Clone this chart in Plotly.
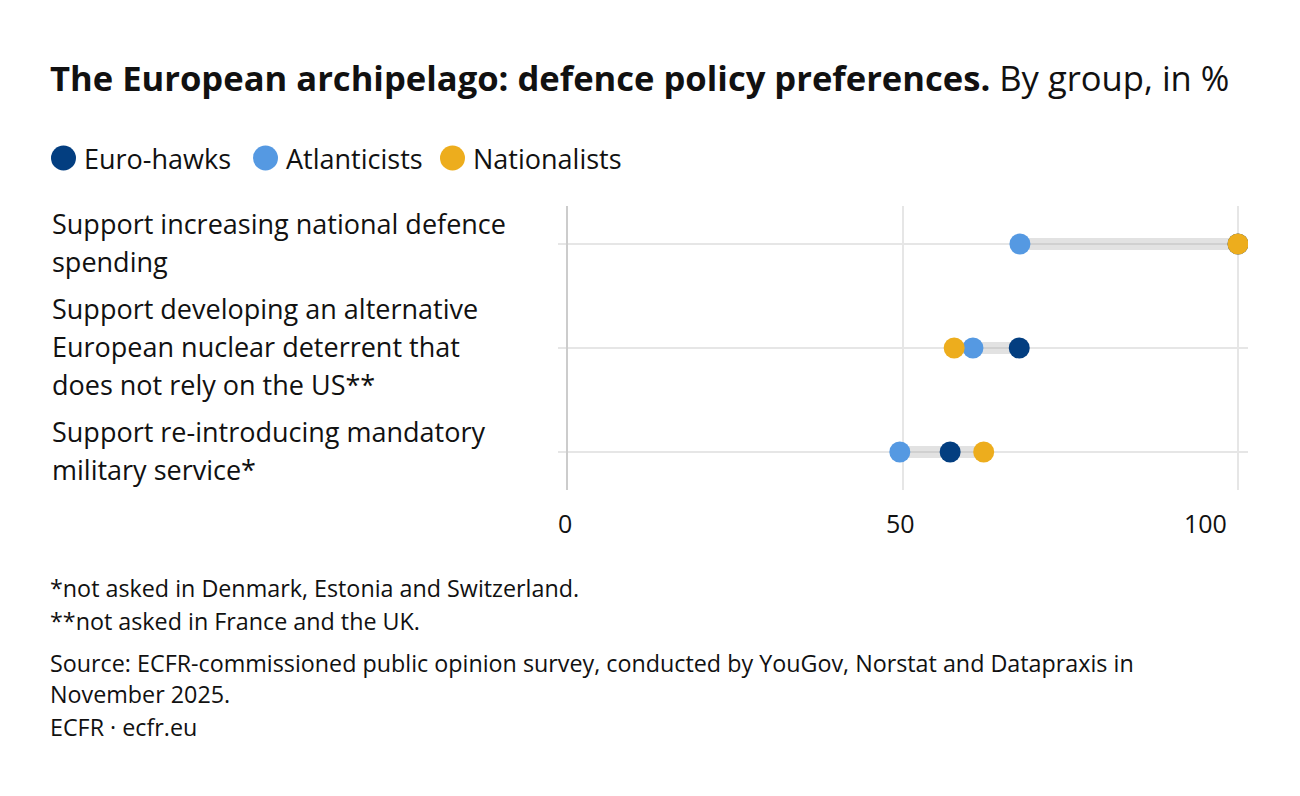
import plotly.graph_objects as go

categories = [
    ["Support increasing national defence", "spending"],
    ["Support developing an alternative", "European nuclear deterrent that", "does not rely on the US**"],
    ["Support re-introducing mandatory", "military service*"],
]
series_names = ["Euro-hawks", "Atlanticists", "Nationalists"]
euro_hawks = [100, 67.4, 57.1]
atlanticists = [67.5, 60.5, 49.6]
nationalists = [100, 57.7, 62.1]
colors = ["#033e80", "#5599e2", "#edad1d"]
tick_vals = [0, 50, 100]
tick_text = ["0", "50", "100"]

W, H = 1300, 796
L, R, T, B = 558, 52, 206, 306
PW = W - L - R
PH = H - T - B
FONT = "Open Sans"


def px(x):
    return (x - L) / PW


def py(y):
    return 1 - (y - T) / PH


fig = go.Figure()
ypos = list(range(len(categories)))
all_vals = [euro_hawks, atlanticists, nationalists]

# range bands
for i in ypos:
    vals = [s[i] for s in all_vals]
    fig.add_trace(go.Scatter(
        x=[min(vals), max(vals)], y=[i, i], mode="lines",
        line=dict(color="rgba(150,150,150,0.28)", width=12),
        showlegend=False, hoverinfo="skip"))

for name, vals, c in zip(series_names, all_vals, colors):
    fig.add_trace(go.Scatter(
        x=vals, y=ypos, mode="markers", name=name,
        marker=dict(color=c, size=21, line=dict(width=0)),
        showlegend=False))

fig.update_xaxes(
    range=[-9 / 6.71, 100 + 10 / 6.71], tickvals=tick_vals, showticklabels=False,
    showgrid=True, gridcolor="#e6e6e6", gridwidth=1.5,
    zeroline=True, zerolinecolor="#cccccc", zerolinewidth=2,
    showline=False, ticks="", fixedrange=True)
fig.update_yaxes(
    range=[2 + 38 / 104, -38 / 104], tickvals=ypos, showticklabels=False,
    showgrid=True, gridcolor="#e6e6e6", gridwidth=1.5, zeroline=False,
    showline=False, fixedrange=True)

annotations = []
shapes = []

# x tick labels (last one kept inside the plot edge)
for v, t in zip(tick_vals, tick_text):
    last = v == tick_vals[-1]
    annotations.append(dict(
        text=t, xref="x", yref="paper", x=v, y=py(523),
        xanchor="right" if last else "center", xshift=-9 if last else -2,
        yanchor="middle",
        showarrow=False, font=dict(family=FONT, size=25, color="#111")))

LINE = 38
# category labels, one annotation per line
for i, lines in enumerate(categories):
    n = len(lines)
    for k, ln in enumerate(lines):
        off = (k - (n - 1) / 2) * LINE / 104
        annotations.append(dict(
            text=ln, xref="paper", yref="y", x=px(50), y=i + off - 2 / 104,
            xanchor="left", yanchor="middle", align="left", showarrow=False,
            font=dict(family=FONT, size=27, color="#111")))

# title
annotations.append(dict(
    text="<b>The European archipelago: defence policy preferences.</b> By group, in %",
    xref="paper", yref="paper", x=px(48), y=py(78), xanchor="left", yanchor="middle",
    showarrow=False, font=dict(family=FONT, size=34.6, color="#111")))

# legend
leg_x = [51, 253, 440]
for n, c, lx in zip(series_names, colors, leg_x):
    shapes.append(dict(type="circle", xref="paper", yref="paper",
                       x0=px(lx), x1=px(lx + 25), y0=py(158 + 12.5), y1=py(158 - 12.5),
                       fillcolor=c, line=dict(width=0)))
    annotations.append(dict(
        text=n, xref="paper", yref="paper", x=px(lx + 31), y=py(158), xanchor="left",
        yanchor="middle", showarrow=False, font=dict(family=FONT, size=27, color="#111")))

# footnotes
notes = [
    (588, "*not asked in Denmark, Estonia and Switzerland."),
    (621, "**not asked in France and the UK."),
    (663, "Source: ECFR-commissioned public opinion survey, conducted by YouGov, Norstat and Datapraxis in"),
    (694, "November 2025."),
    (727, "ECFR · ecfr.eu"),
]
for yy, t in notes:
    annotations.append(dict(
        text=t, xref="paper", yref="paper", x=px(48), y=py(yy), xanchor="left",
        yanchor="middle", showarrow=False, font=dict(family=FONT, size=23.3, color="#111")))

fig.update_layout(
    width=W, height=H, margin=dict(l=L, r=R, t=T, b=B),
    paper_bgcolor="white", plot_bgcolor="white",
    annotations=annotations, shapes=shapes, showlegend=False)

fig.write_html("out.html", config={"displayModeBar": False})
